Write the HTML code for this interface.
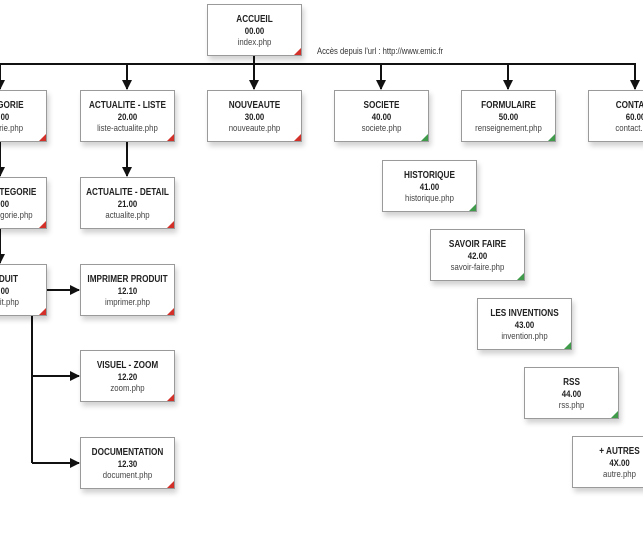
<!DOCTYPE html>
<html><head><meta charset="utf-8"><style>
html,body{margin:0;width:643px;height:536px;overflow:hidden;}
body{background:#fff;position:relative;font-family:"Liberation Sans",sans-serif;}
.b{position:absolute;width:95px;height:52px;border:1px solid #9a9a9a;background:#fff;box-shadow:2px 4px 5px rgba(0,0,0,0.18);text-align:center;color:#222;box-sizing:border-box;}
.b div{position:absolute;left:-20px;right:-20px;white-space:nowrap;transform:scaleX(0.82);line-height:11px;}
.b .t{top:9px;font-weight:bold;font-size:10px;}
.b .n{top:21px;font-weight:bold;font-size:9.5px;}
.b .f{top:32px;font-size:9.5px;color:#444;}
.b:after{content:"";position:absolute;right:0;bottom:0;width:0;height:0;border-left:7px solid transparent;border-bottom:7px solid #d4302a;}
.g:after{border-bottom-color:#3f9a4a;}
svg{position:absolute;left:0;top:0;}
.u{position:absolute;left:317px;top:46px;font-size:9px;color:#333;white-space:nowrap;transform:scaleX(0.85);transform-origin:0 0;}
</style></head><body>
<svg width="643" height="536">
<defs><marker id="a" markerWidth="10" markerHeight="10" refX="9" refY="5" orient="auto" markerUnits="userSpaceOnUse"><path d="M0,0 L10,5 L0,10 z" fill="#111"/></marker></defs>
<g stroke="#111" stroke-width="2" fill="none">
<line x1="254" y1="55" x2="254" y2="64"/>
<line x1="0" y1="64" x2="636" y2="64"/>
<line x1="0" y1="64" x2="0" y2="89" marker-end="url(#a)"/>
<line x1="127" y1="64" x2="127" y2="89" marker-end="url(#a)"/>
<line x1="254" y1="64" x2="254" y2="89" marker-end="url(#a)"/>
<line x1="381" y1="64" x2="381" y2="89" marker-end="url(#a)"/>
<line x1="508" y1="64" x2="508" y2="89" marker-end="url(#a)"/>
<line x1="635" y1="64" x2="635" y2="89" marker-end="url(#a)"/>
<line x1="0" y1="142" x2="0" y2="176" marker-end="url(#a)"/>
<line x1="127" y1="142" x2="127" y2="176" marker-end="url(#a)"/>
<line x1="0" y1="229" x2="0" y2="263" marker-end="url(#a)"/>
<line x1="47" y1="290" x2="79" y2="290" marker-end="url(#a)"/>
<line x1="32" y1="316" x2="32" y2="463"/>
<line x1="32" y1="376" x2="79" y2="376" marker-end="url(#a)"/>
<line x1="32" y1="463" x2="79" y2="463" marker-end="url(#a)"/>
</g></svg>
<div class="u">Accès depuis l'url : http://www.emic.fr</div>

<div class="b" style="left:207px;top:4px"><div class="t">ACCUEIL</div><div class="n">00.00</div><div class="f">index.php</div></div>

<div class="b" style="left:-48px;top:90px"><div class="t">CATEGORIE</div><div class="n">10.00</div><div class="f">categorie.php</div></div>
<div class="b" style="left:80px;top:90px"><div class="t">ACTUALITE - LISTE</div><div class="n">20.00</div><div class="f">liste-actualite.php</div></div>
<div class="b" style="left:207px;top:90px"><div class="t">NOUVEAUTE</div><div class="n">30.00</div><div class="f">nouveaute.php</div></div>
<div class="b g" style="left:334px;top:90px"><div class="t">SOCIETE</div><div class="n">40.00</div><div class="f">societe.php</div></div>
<div class="b g" style="left:461px;top:90px"><div class="t">FORMULAIRE</div><div class="n">50.00</div><div class="f">renseignement.php</div></div>
<div class="b g" style="left:588px;top:90px"><div class="t">CONTACT</div><div class="n">60.00</div><div class="f">contact.php</div></div>

<div class="b" style="left:-48px;top:177px"><div class="t">SOUS CATEGORIE</div><div class="n">11.00</div><div class="f">sous-categorie.php</div></div>
<div class="b" style="left:80px;top:177px"><div class="t">ACTUALITE - DETAIL</div><div class="n">21.00</div><div class="f">actualite.php</div></div>

<div class="b" style="left:-48px;top:264px"><div class="t">PRODUIT</div><div class="n">12.00</div><div class="f">produit.php</div></div>
<div class="b" style="left:80px;top:264px"><div class="t">IMPRIMER PRODUIT</div><div class="n">12.10</div><div class="f">imprimer.php</div></div>
<div class="b" style="left:80px;top:350px"><div class="t">VISUEL - ZOOM</div><div class="n">12.20</div><div class="f">zoom.php</div></div>
<div class="b" style="left:80px;top:437px"><div class="t">DOCUMENTATION</div><div class="n">12.30</div><div class="f">document.php</div></div>

<div class="b g" style="left:382px;top:160px"><div class="t">HISTORIQUE</div><div class="n">41.00</div><div class="f">historique.php</div></div>
<div class="b g" style="left:430px;top:229px"><div class="t">SAVOIR FAIRE</div><div class="n">42.00</div><div class="f">savoir-faire.php</div></div>
<div class="b g" style="left:477px;top:298px"><div class="t">LES INVENTIONS</div><div class="n">43.00</div><div class="f">invention.php</div></div>
<div class="b g" style="left:524px;top:367px"><div class="t">RSS</div><div class="n">44.00</div><div class="f">rss.php</div></div>
<div class="b g" style="left:572px;top:436px"><div class="t">+ AUTRES</div><div class="n">4X.00</div><div class="f">autre.php</div></div>
</body></html>
